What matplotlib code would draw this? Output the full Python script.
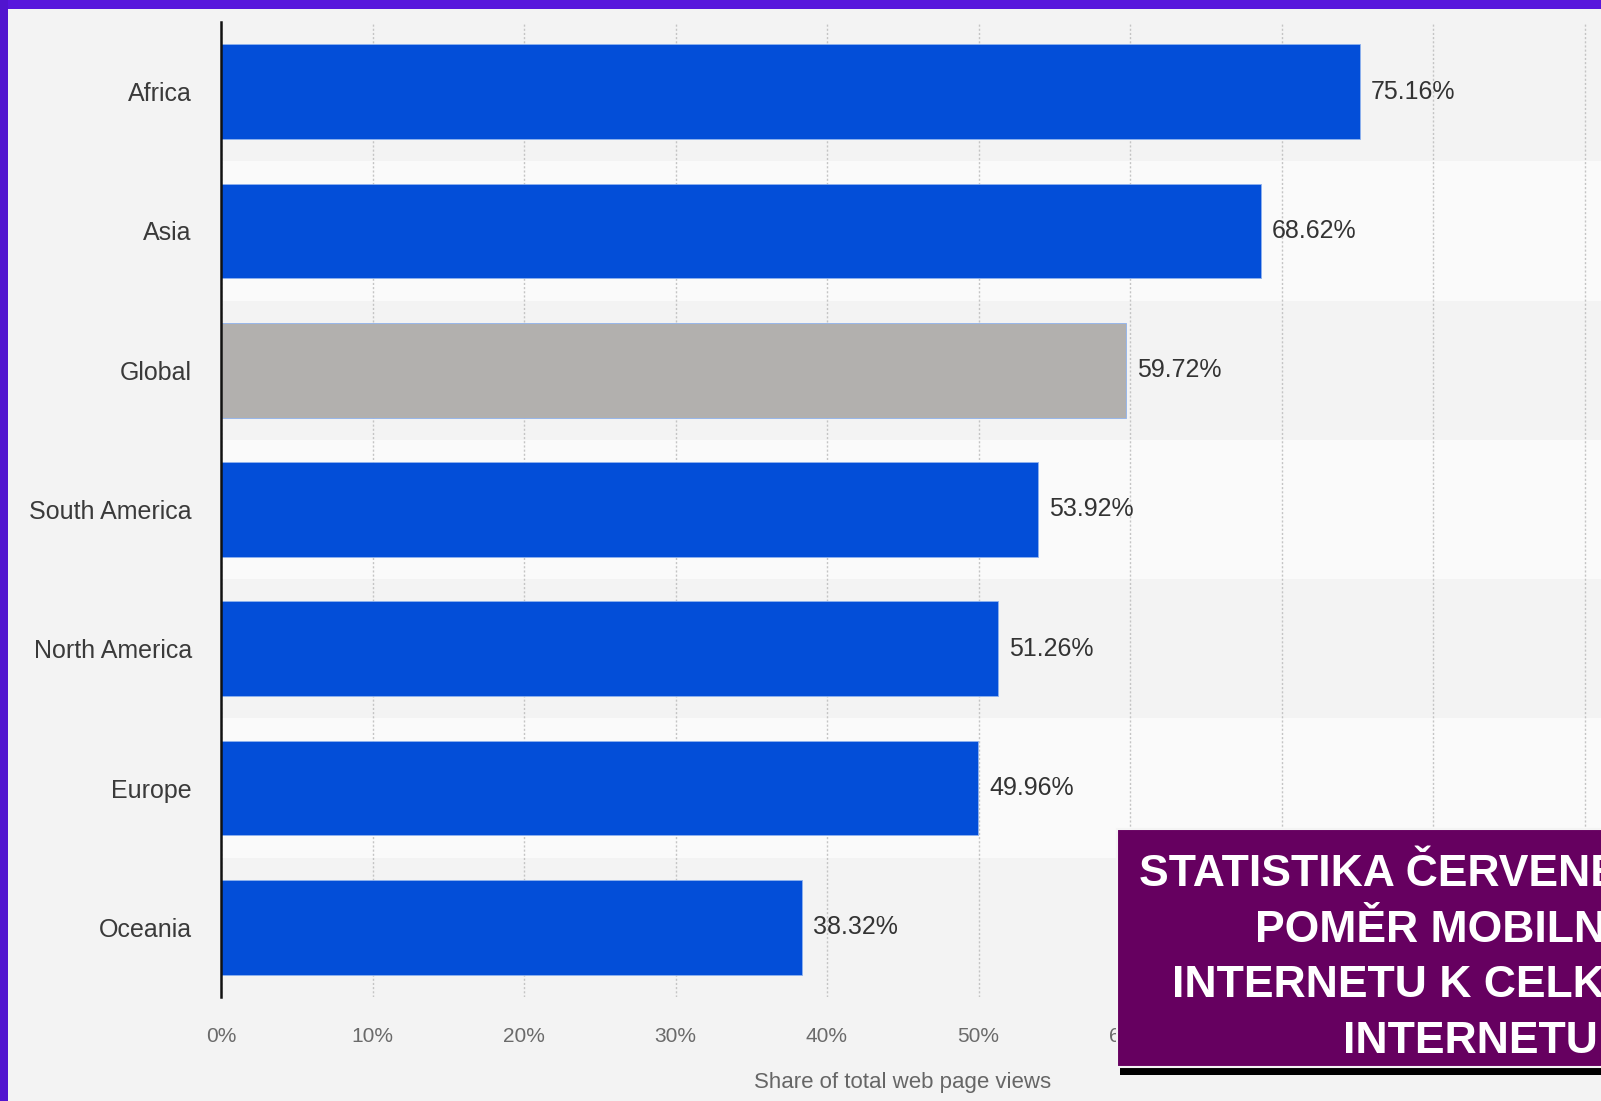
import numpy as np
import matplotlib
matplotlib.use("Agg")
import matplotlib.pyplot as plt
from matplotlib.patches import Rectangle

# Data
regions = ['Africa', 'Asia', 'Global', 'South America', 'North America', 'Europe', 'Oceania']
share = [75.16, 68.62, 59.72, 53.92, 51.26, 49.96, 38.32]
bar_colors = ['#034ed8', '#034ed8', '#b2b0ae', '#034ed8', '#034ed8', '#034ed8', '#034ed8']
ticks = [0, 10, 20, 30, 40, 50, 60, 70, 80, 90]
# labels from 70% on sit under the banner and are not visible
tick_labels = ['0%', '10%', '20%', '30%', '40%', '50%', '60%', '', '', '']
banner = 'STATISTIKA ČERVENEC 2023 –\nPOMĚR MOBILNÍHO\nINTERNETU K CELKOVÉMU\nINTERNETU'

plt.rcParams['font.family'] = ['Liberation Sans', 'DejaVu Sans']

W, H = 1601, 1101
fig = plt.figure(figsize=(W / 100, H / 100), dpi=100)
fig.patch.set_facecolor('#f3f3f3')

# axes: 0% at x=221px, 10% per 151.5px, runs past the right edge
left = 221 / W
width = 1515 / W
bottom = (H - 997) / H
height = 975 / H
ax = fig.add_axes([left, bottom, width, height])
ax.set_facecolor('#f3f3f3')

y = np.arange(len(regions))
for i in y:
    ax.axhspan(i - 0.5, i + 0.5, color='#f3f3f3' if i % 2 == 0 else '#fafafa', zorder=0, lw=0)

ax.barh(y, share, height=0.68, color=bar_colors, edgecolor='#8fb2ee', linewidth=0.6, zorder=3)

for yi, v in zip(y, share):
    ax.text(v + 0.75, yi, f'{v:.2f}%', va='center', ha='left', fontsize=18, color='#333333', zorder=4)

ax.set_xlim(0, 100)
ax.set_ylim(len(regions) - 0.5, -0.5)
ax.set_yticks(y)
ax.set_yticklabels(regions, fontsize=18, color='#3a3a3a')
ax.set_xticks(ticks)
ax.set_xticklabels(tick_labels, fontsize=15, color='#6a6a6a')
ax.tick_params(axis='both', length=0)
ax.tick_params(axis='y', pad=21)
ax.tick_params(axis='x', pad=21.5)

ax.grid(axis='x', color='#c4c4c4', linestyle=(0, (1.5, 1.5)), linewidth=1.0, zorder=1)
ax.set_axisbelow(True)

for s in ['top', 'right', 'bottom']:
    ax.spines[s].set_visible(False)
ax.spines['left'].set_color('#111111')
ax.spines['left'].set_linewidth(1.8)
ax.spines['left'].set_zorder(5)

ax.set_xlabel('Share of total web page views', fontsize=16, color='#666666')
ax.xaxis.set_label_coords((903 - 221) / 1515, -(1072 - 997) / 975)
ax.xaxis.label.set_va('top')

# purple frame on top and left
fig.add_artist(Rectangle((0, 1 - 9 / H), 1, 9 / H, transform=fig.transFigure,
                         color='#5816dc', lw=0, zorder=10))
fig.add_artist(Rectangle((0, 0), 8 / W, 1, transform=fig.transFigure,
                         color='#5114cf', lw=0, zorder=10))

# banner box with shadow
fig.add_artist(Rectangle((1120 / W, (H - 1075) / H), 0.5, (1075 - 834) / H,
                         transform=fig.transFigure, facecolor='black', lw=0, zorder=11))
fig.add_artist(Rectangle((1117 / W, (H - 1067) / H), 0.5, (1067 - 829) / H,
                         transform=fig.transFigure, facecolor='#660060',
                         edgecolor='#f4f4f4', lw=1.5, zorder=12))
fig.text(1470 / W, (H - 958) / H, banner, ha='center', va='center', multialignment='center',
         fontsize=32, fontweight='bold', color='white', linespacing=1.46, zorder=13)

fig.savefig('out.png', dpi=100, facecolor=fig.get_facecolor())
